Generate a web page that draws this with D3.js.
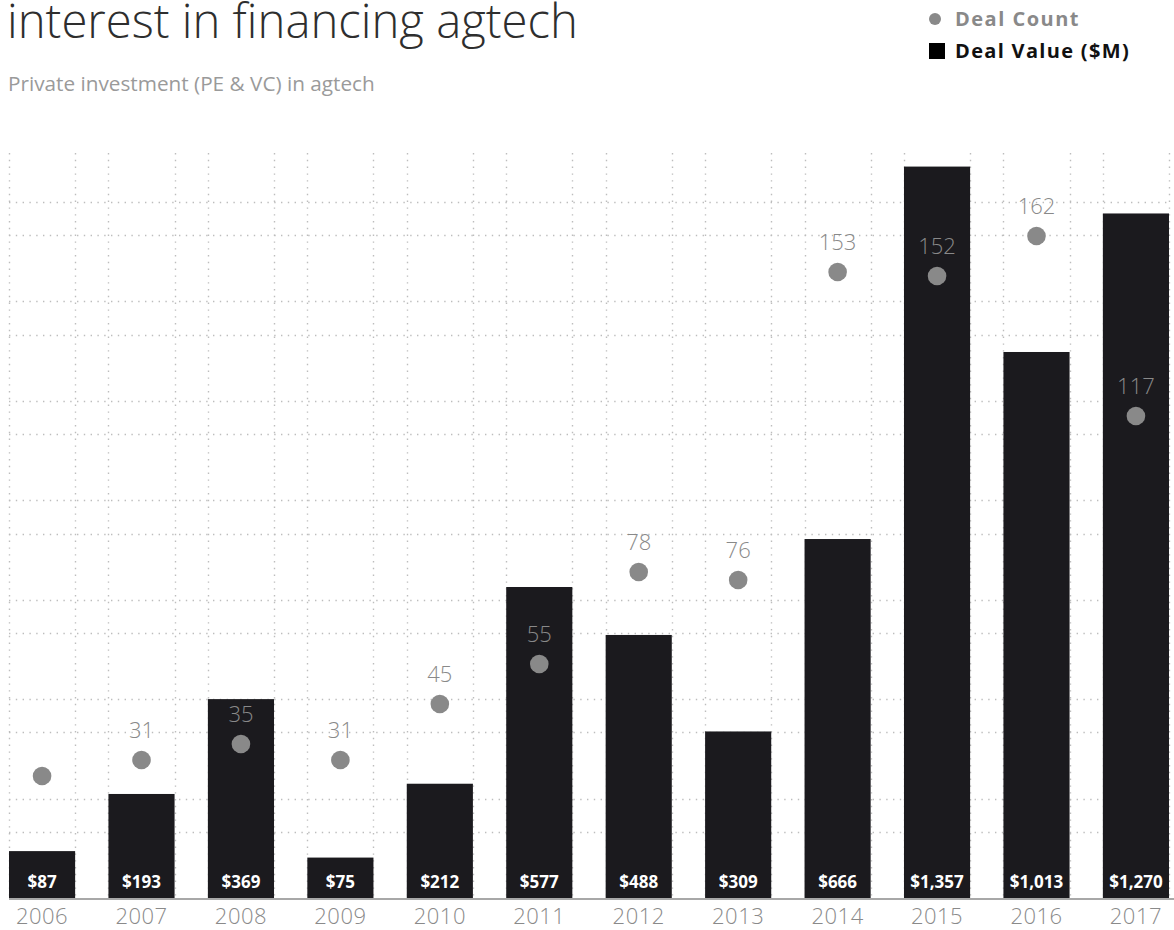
<!DOCTYPE html>
<html>
<head>
<meta charset="utf-8">
<script src="https://cdn.jsdelivr.net/npm/d3@7"></script>
<style>
  html, body { margin: 0; padding: 0; background: #fff; }
  svg { display: block; font-family: "Open Sans", "Noto Sans", sans-serif; }
</style>
</head>
<body>
<svg id="chart" width="1174" height="930"></svg>
<script>
// ---- data ----
const years = ["2006","2007","2008","2009","2010","2011","2012","2013","2014","2015","2016","2017"];
const dealValues = [87, 193, 369, 75, 212, 577, 488, 309, 666, 1357, 1013, 1270];
const valueLabels = ["$87","$193","$369","$75","$212","$577","$488","$309","$666","$1,357","$1,013","$1,270"];
const dealCounts = [27, 31, 35, 31, 45, 55, 78, 76, 153, 152, 162, 117];
const countLabels = ["", "31", "35", "31", "45", "55", "78", "76", "153", "152", "162", "117"];
const titleText = "interest in financing agtech";
const subtitleText = "Private investment (PE & VC) in agtech";
const legendItems = ["Deal Count", "Deal Value ($M)"];

// ---- layout ----
const W = 1174, H = 930;
const baseY = 898, gridTop = 153;
const barColor = "#1b1a1e", dotColor = "#898989", gridColor = "#bdbdbd";

const svg = d3.select("#chart");

const x = d3.scaleBand().domain(years).range([9, 1169]).paddingInner(0.335).paddingOuter(0);
const yVal = d3.scaleLinear().domain([0, 1400]).range([baseY, baseY - 754.6]);
const yCnt = d3.scaleLinear().domain([0, 200]).range([884, 84]);

const step = x.step(), bw = x.bandwidth();

function fitWidth(sel, target) {
  const w = sel.node().getComputedTextLength();
  const n = sel.text().length;
  sel.attr("letter-spacing", (target - w) / n);
}

// ---- grid (square cells built from the band scale) ----
const grid = svg.append("g").attr("stroke", gridColor).attr("stroke-width", 1.4)
  .attr("stroke-dasharray", "1.4,5.4").attr("fill", "none");

const vx = [];
years.forEach(yr => { vx.push(x(yr)); vx.push(x(yr) + bw); });
grid.selectAll("line.v").data(vx).join("line").attr("class", "v")
  .attr("x1", d => Math.round(d) + 0.5).attr("x2", d => Math.round(d) + 0.5)
  .attr("y1", gridTop).attr("y2", baseY);

const hy = [];
for (let k = 0; k < 8; k++) {
  const a = baseY - k * step - bw;
  const b = baseY - (k + 1) * step;
  if (a >= gridTop) hy.push(a);
  if (b >= gridTop) hy.push(b);
}
grid.selectAll("line.h").data(hy).join("line").attr("class", "h")
  .attr("x1", 9).attr("x2", 1169)
  .attr("y1", d => Math.round(d) + 0.5).attr("y2", d => Math.round(d) + 0.5);

// ---- baseline ----
svg.append("line").attr("x1", 9).attr("x2", 1174).attr("y1", baseY + 1).attr("y2", baseY + 1)
  .attr("stroke", "#a8a8a8").attr("stroke-width", 2);

// ---- bars ----
svg.append("g").selectAll("rect").data(years).join("rect")
  .attr("x", d => x(d)).attr("width", bw)
  .attr("y", (d, i) => yVal(dealValues[i]))
  .attr("height", (d, i) => baseY - yVal(dealValues[i]))
  .attr("fill", barColor);

svg.append("g").selectAll("text").data(years).join("text")
  .attr("x", d => x(d) + bw / 2).attr("y", baseY - 10)
  .attr("text-anchor", "middle").attr("fill", "#fff")
  .attr("font-size", 17).attr("font-weight", 700)
  .text((d, i) => valueLabels[i]);

// ---- dots ----
svg.append("g").selectAll("circle").data(years).join("circle")
  .attr("cx", d => x(d) + bw / 2).attr("cy", (d, i) => yCnt(dealCounts[i]))
  .attr("r", 9.3).attr("fill", dotColor);

svg.append("g").selectAll("text").data(years).join("text")
  .attr("x", d => x(d) + bw / 2).attr("y", (d, i) => yCnt(dealCounts[i]) - 22)
  .attr("text-anchor", "middle").attr("fill", dotColor)
  .attr("font-size", 22).attr("font-weight", 300)
  .text((d, i) => countLabels[i]);

// ---- x axis labels ----
const xl = svg.append("g").selectAll("text").data(years).join("text")
  .attr("y", 924).attr("fill", "#8a8a8a").attr("font-size", 22).attr("font-weight", 300)
  .attr("letter-spacing", 0.5)
  .attr("text-anchor", "middle").text(d => d);
xl.each(function(d) {
  const w = this.getComputedTextLength();
  let cx = x(d) + bw / 2;
  cx = Math.max(cx, 8 + w / 2);
  cx = Math.min(cx, 1166 - w / 2);
  d3.select(this).attr("x", cx);
});

// ---- title & subtitle ----
const title = svg.append("text").attr("x", 7).attr("y", 38)
  .attr("fill", "#2e2e2e").attr("font-size", 40).attr("font-weight", 300).text(titleText);
const tw = title.node().getComputedTextLength();
title.attr("font-size", 40 * 571 / tw);

const sub = svg.append("text").attr("x", 8).attr("y", 91)
  .attr("fill", "#9a9a9a").attr("font-size", 20).text(subtitleText);
const sw = sub.node().getComputedTextLength();
sub.attr("font-size", 20 * 367 / sw);

// ---- legend ----
const lg = svg.append("g");
lg.append("circle").attr("cx", 935).attr("cy", 19).attr("r", 6).attr("fill", dotColor);
const l1 = lg.append("text").attr("x", 955).attr("y", 26).attr("fill", dotColor)
  .attr("font-size", 20).attr("font-weight", 700).text(legendItems[0]);
fitWidth(l1, 125);
lg.append("rect").attr("x", 929).attr("y", 43).attr("width", 16).attr("height", 16).attr("fill", "#000");
const l2 = lg.append("text").attr("x", 955).attr("y", 58).attr("fill", "#111")
  .attr("font-size", 20).attr("font-weight", 700).text(legendItems[1]);
fitWidth(l2, 175);
</script>
</body>
</html>
